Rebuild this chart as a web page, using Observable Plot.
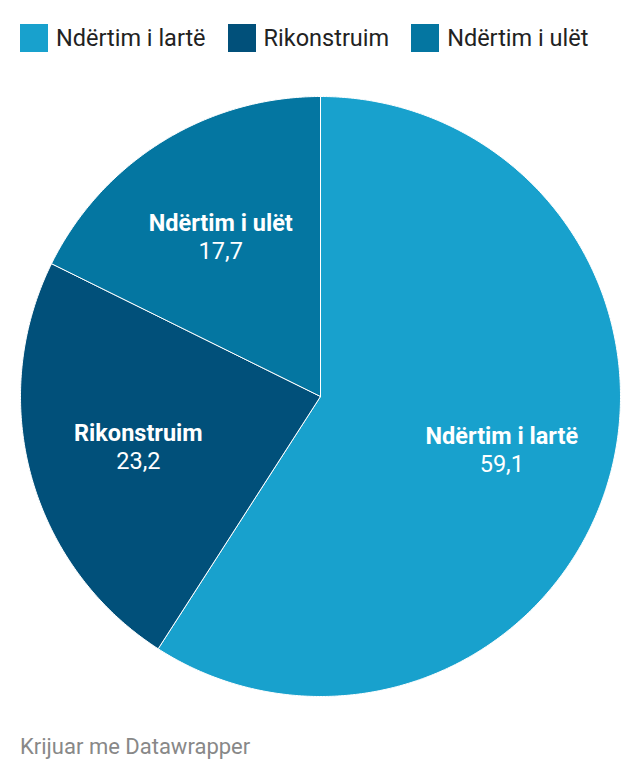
<!DOCTYPE html>
<html>
<head>
<meta charset="utf-8">
<script src="https://cdn.jsdelivr.net/npm/d3@7"></script>
<script src="https://cdn.jsdelivr.net/npm/@observablehq/plot@0.6"></script>
<style>
  html, body { margin: 0; padding: 0; background: #fff; }
  body { width: 640px; height: 782px; position: relative; font-family: Roboto, "Noto Sans", sans-serif; }
  #legend { position: absolute; top: 24px; left: 20px; display: flex; align-items: center; height: 28px; white-space: nowrap; }
  .item { display: flex; align-items: center; margin-right: 22px; font-size: 23.5px; color: #222; }
  .sw { width: 28px; height: 28px; margin-right: 8px; flex: none; }
  #chart { position: absolute; top: 86px; left: 0; }
  #credit { position: absolute; top: 734px; left: 20px; font-size: 22px; color: #888; }
</style>
</head>
<body>
<div id="legend"></div>
<div id="chart"></div>
<div id="credit">Krijuar me Datawrapper</div>
<script>
const categories = ["Ndërtim i lartë", "Rikonstruim", "Ndërtim i ulët"];
const values = [59.1, 23.2, 17.7];
const labels = ["59,1", "23,2", "17,7"];
const colors = ["#18a1cd", "#01507a", "#0476a1"];

// legend
const legend = document.getElementById("legend");
categories.forEach((c, i) => {
  const it = document.createElement("div");
  it.className = "item";
  it.innerHTML = `<div class="sw" style="background:${colors[i]}"></div><span>${c}</span>`;
  legend.appendChild(it);
});

// pie geometry from the data
const pie = d3.pie().sort(null).value(d => d.value)
  .startAngle(0).endAngle(2 * Math.PI);
const data = categories.map((c, i) => ({name: c, value: values[i], label: labels[i]}));
const arcs = pie(data);

const polys = [];
arcs.forEach(a => {
  const n = Math.max(2, Math.ceil((a.endAngle - a.startAngle) / 0.01));
  polys.push({name: a.data.name, px: 0, py: 0});
  for (let k = 0; k <= n; k++) {
    const t = a.startAngle + (a.endAngle - a.startAngle) * k / n;
    polys.push({name: a.data.name, px: Math.sin(t), py: Math.cos(t)});
  }
  polys.push({name: a.data.name, px: 0, py: 0});
});

const lbl = arcs.map(a => {
  const m = (a.startAngle + a.endAngle) / 2;
  return {name: a.data.name, label: a.data.label, px: 0.63 * Math.sin(m), py: 0.63 * Math.cos(m)};
});

const chart = Plot.plot({
  width: 640,
  height: 620,
  marginLeft: 20,
  marginRight: 20,
  marginTop: 10,
  marginBottom: 10,
  x: {domain: [-1, 1], axis: null},
  y: {domain: [-1, 1], axis: null},
  color: {domain: categories, range: colors},
  style: {fontFamily: "Roboto, 'Noto Sans', sans-serif", background: "transparent"},
  marks: [
    Plot.line(polys, {x: "px", y: "py", z: "name", fill: "name", stroke: "white", strokeWidth: 1, curve: "linear"}),
    Plot.text(lbl, {x: "px", y: "py", text: "name", dy: -13, fill: "white", fontSize: 23.5, fontWeight: "bold"}),
    Plot.text(lbl, {x: "px", y: "py", text: "label", dy: 15, fill: "white", fontSize: 23.5})
  ]
});
document.getElementById("chart").appendChild(chart);
</script>
</body>
</html>
